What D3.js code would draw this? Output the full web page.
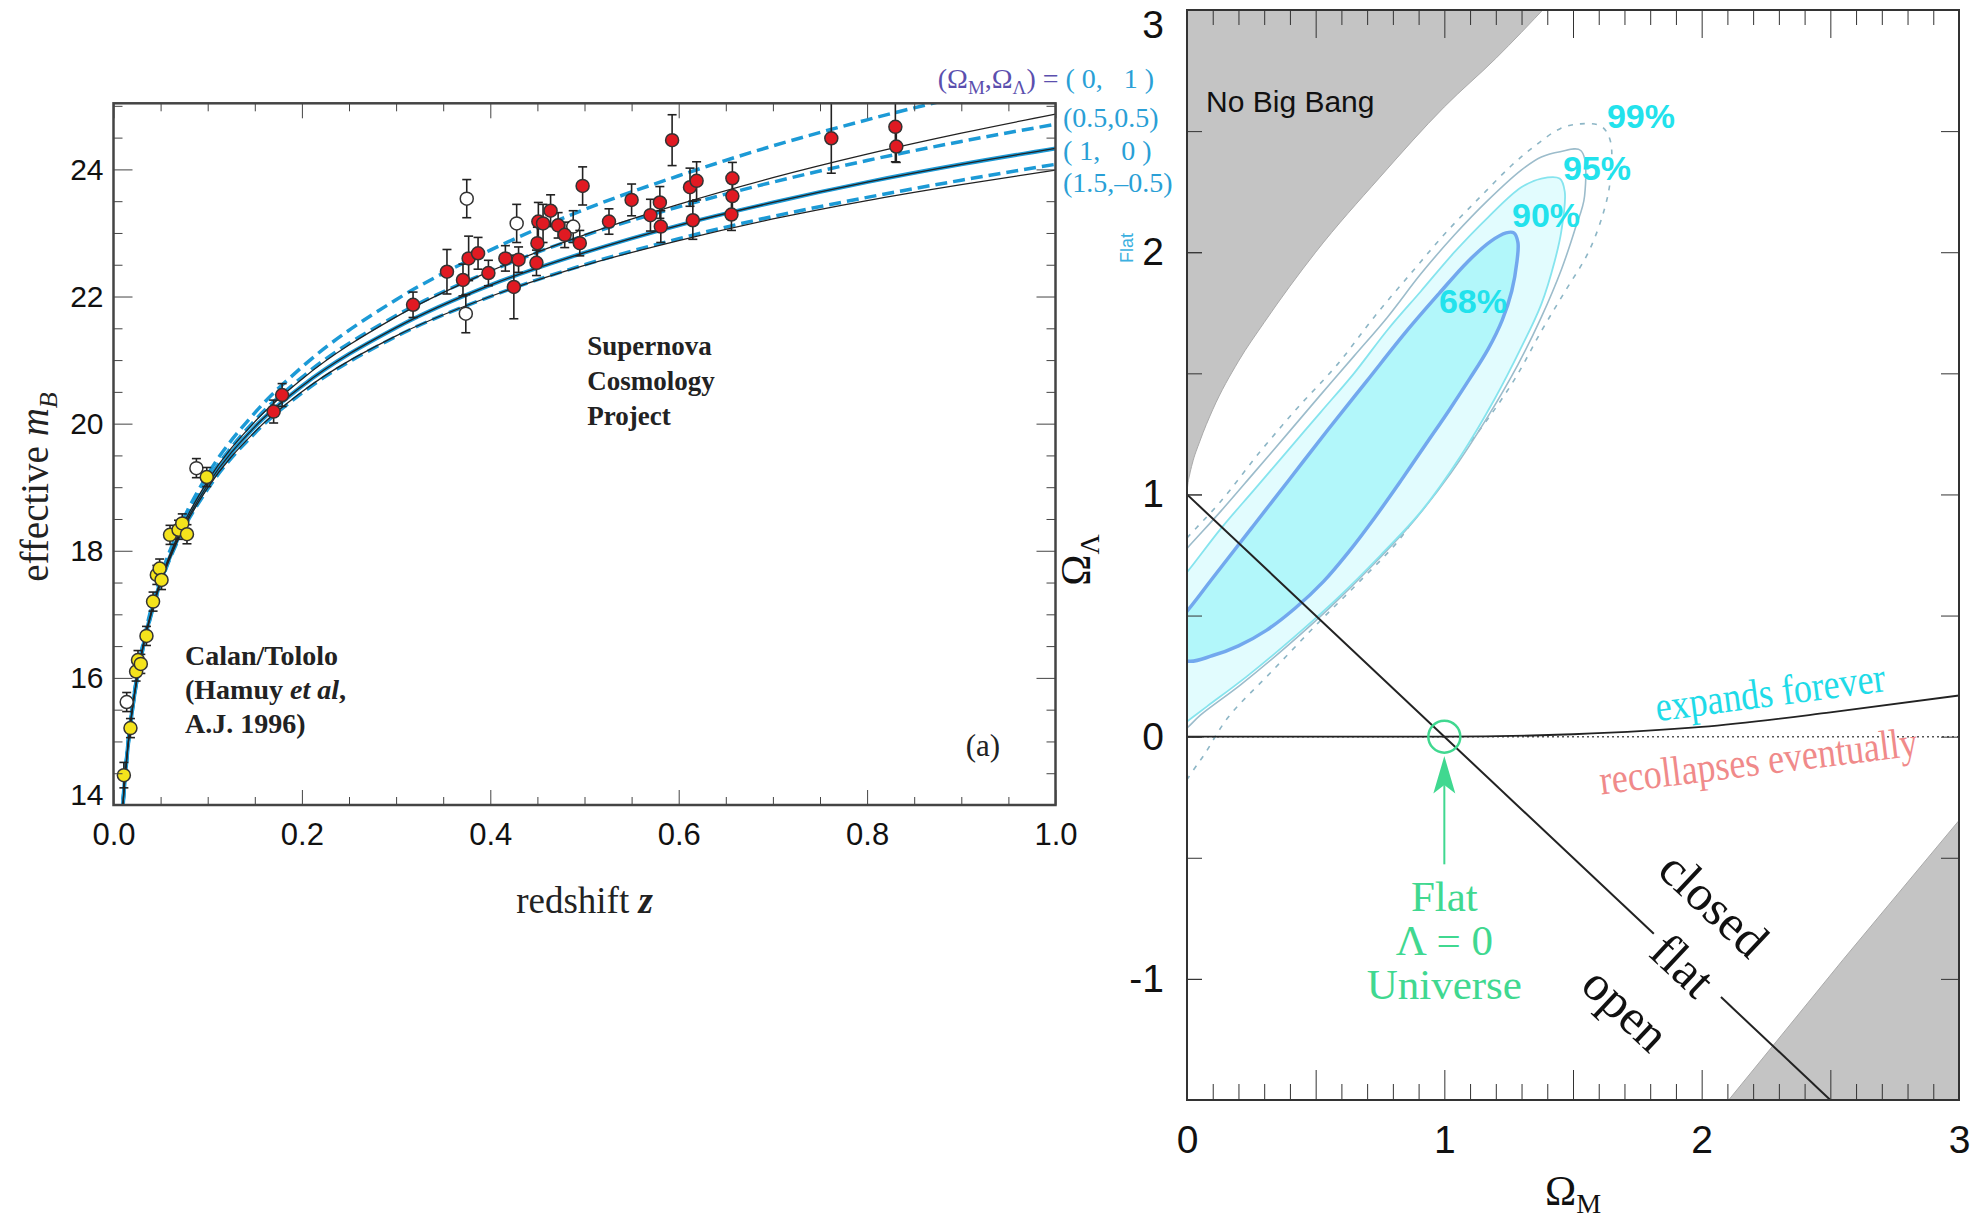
<!DOCTYPE html>
<html lang="en">
<head>
<meta charset="utf-8">
<title>Supernova Hubble diagram and the Omega_M / Omega_Lambda plane</title>
<script src="https://d3js.org/d3.v7.min.js"></script>
<style>
  html, body { margin: 0; padding: 0; background: #fff; }
  svg { display: block; }
  .flat-dash  { fill: none; stroke: #1c9ad6; stroke-width: 3.5; stroke-dasharray: 12,6; }
  .flat-solid { fill: none; stroke: #1c9ad6; stroke-width: 4; }
  .matter     { fill: none; stroke: #222; stroke-width: 1.25; }
  .errbar line { stroke: #222; stroke-width: 1.6; }
  .pre { white-space: pre; }
</style>
</head>
<body>
<svg id="chart" width="1982" height="1226"></svg>
<script>

// ---------------------------------------------
// data - left panel (Hubble diagram)
// ---------------------------------------------
var curveZ    = [0.008, 0.01, 0.015, 0.02, 0.03, 0.04, 0.05, 0.07, 0.1, 0.15, 0.2, 0.3, 0.4, 0.5, 0.6, 0.7, 0.8, 0.9, 1.0];
var mFlat01   = [13.52, 14.01, 14.90, 15.54, 16.44, 17.09, 17.59, 18.36, 19.20, 20.17, 20.89, 21.95, 22.73, 23.37, 23.90, 24.37, 24.78, 25.15, 25.50];
var mFlat55   = [13.52, 14.00, 14.89, 15.52, 16.42, 17.05, 17.55, 18.31, 19.11, 20.05, 20.73, 21.70, 22.40, 22.96, 23.41, 23.80, 24.14, 24.44, 24.71];
var mFlat10   = [13.51, 14.00, 14.88, 15.51, 16.39, 17.02, 17.51, 18.25, 19.04, 19.95, 20.59, 21.51, 22.18, 22.69, 23.12, 23.48, 23.80, 24.08, 24.33];
var mFlat15   = [13.50, 13.99, 14.87, 15.49, 16.37, 16.99, 17.48, 18.21, 18.97, 19.85, 20.48, 21.37, 22.00, 22.50, 22.91, 23.26, 23.56, 23.83, 24.08];
var mOpen00   = [13.51, 14.00, 14.89, 15.52, 16.41, 17.04, 17.54, 18.29, 19.10, 20.03, 20.70, 21.68, 22.40, 22.97, 23.45, 23.87, 24.24, 24.57, 24.87];
var mClosed20 = [13.51, 13.99, 14.87, 15.50, 16.38, 17.00, 17.49, 18.22, 18.99, 19.87, 20.50, 21.38, 22.00, 22.49, 22.88, 23.22, 23.51, 23.76, 23.99];

// Supernova Cosmology Project (red)
var redZ   = [0.170, 0.179, 0.318, 0.354, 0.371, 0.377, 0.387, 0.398, 0.416, 0.425, 0.430, 0.449, 0.450, 0.451, 0.456, 0.464, 0.472, 0.479, 0.495, 0.498, 0.526, 0.550, 0.570, 0.580, 0.581, 0.593, 0.612, 0.619, 0.615, 0.657, 0.657, 0.656, 0.762, 0.830, 0.831];
var redM   = [20.19, 20.45, 21.87, 22.39, 22.26, 22.60, 22.68, 22.37, 22.60, 22.15, 22.58, 22.53, 22.84, 23.18, 23.15, 23.35, 23.12, 22.97, 22.84, 23.74, 23.18, 23.52, 23.28, 23.48, 23.10, 24.46, 23.72, 23.82, 23.20, 23.86, 23.58, 23.29, 24.49, 24.67, 24.36];
var redErr = [0.18, 0.18, 0.20, 0.35, 0.25, 0.35, 0.25, 0.20, 0.20, 0.50, 0.20, 0.20, 0.25, 0.30, 0.30, 0.25, 0.20, 0.20, 0.20, 0.30, 0.20, 0.25, 0.25, 0.25, 0.25, 0.40, 0.30, 0.30, 0.30, 0.25, 0.25, 0.25, 0.55, 0.55, 0.25];

// Calan/Tololo (yellow)
var yelZ   = [0.011, 0.018, 0.024, 0.026, 0.029, 0.035, 0.042, 0.046, 0.049, 0.051, 0.060, 0.069, 0.073, 0.078, 0.099];
var yelM   = [14.47, 15.21, 16.10, 16.28, 16.22, 16.66, 17.20, 17.62, 17.72, 17.54, 18.25, 18.33, 18.43, 18.26, 19.16];
var yelErr = [0.20, 0.15, 0.15, 0.15, 0.15, 0.15, 0.15, 0.15, 0.15, 0.15, 0.15, 0.15, 0.15, 0.15, 0.15];

// open circles
var openZ   = [0.014, 0.088, 0.374, 0.375, 0.428, 0.488];
var openM   = [15.62, 19.30, 21.73, 23.54, 23.15, 23.10];
var openErr = [0.15, 0.15, 0.30, 0.30, 0.30, 0.25];

var legendLabels = ["(0.5,0.5)", "( 1,   0 )", "(1.5,\u20130.5)"];

// ---------------------------------------------
// data - right panel (Omega_M, Omega_Lambda), pairs [Om, OL]
// ---------------------------------------------
var noBigBang = [[0, 1.0], [0.002, 1.03], [0.01, 1.08], [0.02, 1.125], [0.05, 1.22], [0.1, 1.35], [0.2, 1.55], [0.3, 1.71], [0.5, 2.0], [0.75, 2.31], [1.0, 2.6], [1.2, 2.8], [1.4, 3.02]];
var tooDense  = [[2.105, -1.5], [2.55, -0.92], [3.0, -0.346], [3.0, -1.5]];
var expandM   = [0, 1, 1.5, 2, 2.5, 3];
var expandL   = [0, 0, 0.01, 0.04, 0.10, 0.17];
var flatLineA = [[0, 1], [1.814, -0.814]];
var flatLineB = [[2.075, -1.075], [2.5, -1.5]];

var c68 = [[-0.1,0.40],[0,0.518],[0.1,0.655],[0.25,0.86],[0.4,1.065],[0.55,1.27],[0.7,1.47],[0.85,1.67],[0.98,1.83],[1.09,1.96],[1.18,2.045],[1.24,2.08],[1.27,2.08],[1.286,2.04],[1.282,1.96],[1.262,1.84],[1.225,1.72],[1.17,1.6],[1.1,1.48],[1.02,1.35],[0.93,1.21],[0.83,1.055],[0.73,0.905],[0.63,0.765],[0.53,0.64],[0.42,0.53],[0.31,0.44],[0.2,0.375],[0.1,0.335],[0,0.3125]];
var c90 = [[-0.08,0.58],[0,0.679],[0.13,0.857],[0.26,1.018],[0.39,1.179],[0.519,1.339],[0.649,1.5],[0.779,1.679],[0.909,1.839],[1.039,2.0],[1.169,2.143],[1.299,2.268],[1.377,2.304],[1.448,2.304],[1.468,2.25],[1.455,2.089],[1.429,1.964],[1.377,1.786],[1.299,1.607],[1.195,1.393],[1.065,1.161],[0.909,0.929],[0.753,0.75],[0.584,0.571],[0.416,0.411],[0.234,0.25],[0.078,0.125],[0,0.0625],[-0.08,0.0]];
var c95 = [[-0.08,0.68],[0,0.777],[0.13,0.929],[0.26,1.089],[0.39,1.25],[0.519,1.411],[0.649,1.571],[0.779,1.732],[0.909,1.911],[1.039,2.071],[1.169,2.214],[1.299,2.339],[1.377,2.393],[1.45,2.415],[1.53,2.42],[1.545,2.232],[1.506,2.089],[1.455,1.929],[1.377,1.732],[1.286,1.536],[1.169,1.321],[1.026,1.089],[0.883,0.893],[0.727,0.714],[0.558,0.536],[0.39,0.375],[0.208,0.214],[0.052,0.089],[0,0.036],[-0.08,-0.03]];
var c99 = [[-0.08,0.72],[0,0.82],[0.13,0.97],[0.286,1.179],[0.429,1.357],[0.584,1.536],[0.727,1.732],[0.883,1.929],[1.013,2.089],[1.143,2.232],[1.26,2.357],[1.351,2.438],[1.45,2.51],[1.53,2.53],[1.61,2.52],[1.645,2.46],[1.645,2.30],[1.62,2.17],[1.56,2.0],[1.47,1.84],[1.38,1.68],[1.27,1.47],[1.14,1.27],[0.96,1.03],[0.83,0.82],[0.67,0.64],[0.51,0.47],[0.33,0.27],[0.16,0.08],[0.05,-0.1],[-0.05,-0.22]];

var pctLabels = ["99%", "95%", "90%", "68%"];
var pctPos    = [[1.632, 2.513], [1.461, 2.298], [1.263, 2.104], [0.979, 1.749]];


var fontSans   = '"Liberation Sans", Arial, Helvetica, sans-serif';
var fontNarrow = '"Liberation Sans Narrow", "Liberation Sans", Arial, sans-serif';
var fontSerif  = '"Liberation Serif", "Times New Roman", Times, serif';

var svg = d3.select("#chart");
var defs = svg.append("defs");

function text(g, x, y, str, size, family, fill) {
	return g.append("text").attr("x", x).attr("y", y).text(str)
		.style("font-size", size + "px").style("font-family", family).attr("fill", fill || "#111");
}

function styleTicks(sel, size, family, color) {
	sel.select(".domain").remove();
	sel.attr("color", color || "#444");
	sel.selectAll("text").style("font-size", size + "px").style("font-family", family).attr("fill", "#111");
	return sel;
}

function axis(g, fn, scale, values, size, transform, fmt, pad) {
	var a = fn(scale).tickValues(values).tickSizeInner(-size).tickSizeOuter(0).tickPadding(pad || 10);
	a.tickFormat(fmt ? fmt : "");
	return g.append("g").attr("transform", transform).call(a);
}

//---------------------------------------------
// left panel
//---------------------------------------------
var xL = d3.scaleLinear().domain([0, 1]).range([113.5, 1055.5]);
var yL = d3.scaleLinear().domain([14, 25.04]).range([805, 103.3]);

defs.append("clipPath").attr("id", "clipL").append("rect")
	.attr("x", xL(0)).attr("y", yL(25.04))
	.attr("width", xL(1) - xL(0)).attr("height", yL(14) - yL(25.04));

var left = svg.append("g").attr("id", "left-panel");

var zLine = d3.line().x(function(d) { return xL(d[0]); }).y(function(d) { return yL(d[1]); }).curve(d3.curveMonotoneX);
function zip(ms) { return curveZ.map(function(z, i) { return [z, ms[i]]; }); }

var leftCurves = [
	{ m: mFlat01, cls: "flat-dash" },
	{ m: mFlat55, cls: "flat-dash" },
	{ m: mFlat15, cls: "flat-dash" },
	{ m: mFlat10, cls: "flat-solid" },
	{ m: mOpen00, cls: "matter" },
	{ m: mFlat10, cls: "matter" },
	{ m: mClosed20, cls: "matter" }
];

var curveG = left.append("g").attr("clip-path", "url(#clipL)");
leftCurves.forEach(function(c) {
	curveG.append("path").attr("class", c.cls).attr("d", zLine(zip(c.m)));
});

function drawPoints(g, zs, ms, es, fill) {
	var pts = zs.map(function(z, i) { return { z: z, m: ms[i], e: es[i] }; });
	var bars = g.append("g").attr("class", "errbar").selectAll("g").data(pts).join("g");
	bars.append("line")
		.attr("x1", function(d) { return xL(d.z); }).attr("x2", function(d) { return xL(d.z); })
		.attr("y1", function(d) { return yL(d.m - d.e); }).attr("y2", function(d) { return yL(Math.min(d.m + d.e, 25.04)); });
	bars.append("line")
		.attr("x1", function(d) { return xL(d.z) - 4.5; }).attr("x2", function(d) { return xL(d.z) + 4.5; })
		.attr("y1", function(d) { return yL(d.m - d.e); }).attr("y2", function(d) { return yL(d.m - d.e); });
	bars.filter(function(d) { return d.m + d.e < 25.04; }).append("line")
		.attr("x1", function(d) { return xL(d.z) - 4.5; }).attr("x2", function(d) { return xL(d.z) + 4.5; })
		.attr("y1", function(d) { return yL(d.m + d.e); }).attr("y2", function(d) { return yL(d.m + d.e); });
	g.append("g").selectAll("circle").data(pts).join("circle")
		.attr("cx", function(d) { return xL(d.z); })
		.attr("cy", function(d) { return yL(d.m); })
		.attr("r", 6.5)
		.attr("fill", fill).attr("stroke", "#333").attr("stroke-width", 1.5);
}

drawPoints(left, openZ, openM, openErr, "#fff");
drawPoints(left, yelZ, yelM, yelErr, "#f4e31c");
drawPoints(left, redZ, redM, redErr, "#e01a22");

// frame
left.append("rect").attr("x", xL(0)).attr("y", yL(25.04))
	.attr("width", xL(1) - xL(0)).attr("height", yL(14) - yL(25.04))
	.attr("fill", "none").attr("stroke", "#444").attr("stroke-width", 2.5);

// ticks
var xMinorL = d3.range(0, 21).filter(function(i) { return i % 4 != 0; }).map(function(i) { return i * 0.05; });
var xMajorL = d3.range(0, 6).map(function(i) { return i * 0.2; });
var yMinorL = d3.range(28, 51).filter(function(i) { return i % 4 != 0; }).map(function(i) { return i / 2; });
var yMajorL = [14, 16, 18, 20, 22, 24];

styleTicks(axis(left, d3.axisBottom, xL, xMinorL, 8, "translate(0," + yL(14) + ")"), 30, fontNarrow);
styleTicks(axis(left, d3.axisTop, xL, xMinorL, 8, "translate(0," + yL(25.04) + ")"), 30, fontNarrow);
styleTicks(axis(left, d3.axisBottom, xL, xMajorL, 15, "translate(0," + yL(14) + ")", d3.format(".1f"), 18), 31, fontNarrow);
styleTicks(axis(left, d3.axisTop, xL, xMajorL, 15, "translate(0," + yL(25.04) + ")"), 30, fontNarrow);
styleTicks(axis(left, d3.axisLeft, yL, yMinorL, 9, "translate(" + xL(0) + ",0)"), 30, fontNarrow);
styleTicks(axis(left, d3.axisRight, yL, yMinorL, 9, "translate(" + xL(1) + ",0)"), 30, fontNarrow);
var yLab = styleTicks(axis(left, d3.axisLeft, yL, yMajorL, 19, "translate(" + xL(0) + ",0)", d3.format("d"), 10), 30, fontNarrow);
styleTicks(axis(left, d3.axisRight, yL, yMajorL, 19, "translate(" + xL(1) + ",0)"), 30, fontNarrow);
yLab.selectAll(".tick").filter(function(d) { return d == 14; }).select("text").attr("transform", "translate(0,-10)");

// axis titles
var yTitle = left.append("text")
	.attr("transform", "translate(48,487) rotate(-90)")
	.attr("text-anchor", "middle").style("font-family", fontSerif).style("font-size", "39px").attr("fill", "#222");
yTitle.append("tspan").text("effective  ");
yTitle.append("tspan").style("font-style", "italic").text("m");
yTitle.append("tspan").style("font-style", "italic").style("font-size", "26px").attr("dy", 9).text("B");

var xTitle = left.append("text")
	.attr("x", (xL(0) + xL(1)) / 2).attr("y", 913)
	.attr("text-anchor", "middle").style("font-family", fontSerif).style("font-size", "37px").attr("fill", "#222");
xTitle.append("tspan").text("redshift  ");
xTitle.append("tspan").style("font-style", "italic").style("font-weight", "bold").text("z");

// annotations
["Supernova", "Cosmology", "Project"].forEach(function(s, i) {
	text(left, xL(0.503), yL(21.08) + i * 35, s, 27, fontSerif, "#222").style("font-weight", "bold");
});
var cal = left.append("g").style("font-family", fontSerif).style("font-size", "28px").style("font-weight", "bold").attr("fill", "#222");
cal.append("text").attr("x", xL(0.0759)).attr("y", yL(16.2)).text("Calan/Tololo");
var ham = cal.append("text").attr("x", xL(0.0759)).attr("y", yL(16.2) + 34);
ham.append("tspan").text("(Hamuy ");
ham.append("tspan").style("font-style", "italic").text("et al");
ham.append("tspan").text(",");
cal.append("text").attr("x", xL(0.0759)).attr("y", yL(16.2) + 68).text("A.J. 1996)");

text(left, xL(0.923), yL(14.77), "(a)", 31, fontSerif, "#222").attr("text-anchor", "middle");

// legend of models
var leg = left.append("text").attr("x", xL(0.875)).attr("y", yL(25.28))
	.style("font-family", fontSerif).style("font-size", "28px").attr("class", "pre");
leg.append("tspan").attr("fill", "#5b4fae").text("(\u03A9");
leg.append("tspan").attr("fill", "#5b4fae").style("font-size", "19px").attr("dy", 6).text("M");
leg.append("tspan").attr("fill", "#5b4fae").attr("dy", -6).text(",\u03A9");
leg.append("tspan").attr("fill", "#5b4fae").style("font-size", "19px").attr("dy", 6).text("\u039B");
leg.append("tspan").attr("fill", "#5b4fae").attr("dy", -6).text(") = ");
leg.append("tspan").attr("fill", "#2a9fd6").text("( 0,   1 )");

var legY = [24.666, 24.146, 23.643];
legendLabels.forEach(function(s, i) {
	text(left, xL(1.008), yL(legY[i]), s, 28, fontSerif, "#2a9fd6").attr("class", "pre");
});

//---------------------------------------------
// right panel
//---------------------------------------------
var xR = d3.scaleLinear().domain([0, 3]).range([1187, 1959]);
var yR = d3.scaleLinear().domain([-1.5, 3]).range([1100, 10]);

defs.append("clipPath").attr("id", "clipR").append("rect")
	.attr("x", xR(0)).attr("y", yR(3))
	.attr("width", xR(3) - xR(0)).attr("height", yR(-1.5) - yR(3));

var right = svg.append("g").attr("id", "right-panel");
var plotR = right.append("g").attr("clip-path", "url(#clipR)");

var pLine = d3.line().x(function(d) { return xR(d[0]); }).y(function(d) { return yR(d[1]); });
var blob  = d3.line().x(function(d) { return xR(d[0]); }).y(function(d) { return yR(d[1]); }).curve(d3.curveCatmullRomClosed.alpha(0.5));

// excluded regions
plotR.append("path")
	.attr("d", d3.area().x(function(d) { return xR(d[0]); }).y0(yR(3.1)).y1(function(d) { return yR(d[1]); })
		.curve(d3.curveMonotoneX)(noBigBang))
	.attr("fill", "#c4c4c4").attr("stroke", "#aaa").attr("stroke-width", 1);
plotR.append("path").attr("d", pLine(tooDense) + "Z")
	.attr("fill", "#c4c4c4").attr("stroke", "#aaa").attr("stroke-width", 1);

// confidence regions
plotR.append("path").attr("d", blob(c99)).attr("fill", "none")
	.attr("stroke", "#8db6c6").attr("stroke-width", 1.6).attr("stroke-dasharray", "5,7");
plotR.append("path").attr("d", blob(c95)).attr("fill", "none")
	.attr("stroke", "#9cbccb").attr("stroke-width", 1.6);
plotR.append("path").attr("d", blob(c90)).attr("fill", "#e2fcfe")
	.attr("stroke", "#86e4ee").attr("stroke-width", 1.8);
plotR.append("path").attr("d", blob(c68)).attr("fill", "#b2f7fa")
	.attr("stroke", "#72a8ee").attr("stroke-width", 3.5);

// Lambda = 0 reference and expansion boundary
plotR.append("line").attr("x1", xR(0)).attr("x2", xR(3)).attr("y1", yR(0)).attr("y2", yR(0))
	.attr("stroke", "#555").attr("stroke-width", 1.5).attr("stroke-dasharray", "2,3");
plotR.append("path")
	.attr("d", pLine.curve(d3.curveMonotoneX)(expandM.map(function(m, i) { return [m, expandL[i]]; })))
	.attr("fill", "none").attr("stroke", "#222").attr("stroke-width", 1.8);
pLine.curve(d3.curveLinear);

// flat universe line
[flatLineA, flatLineB].forEach(function(seg) {
	plotR.append("path").attr("d", pLine(seg)).attr("fill", "none").attr("stroke", "#222").attr("stroke-width", 2);
});

// flat, Lambda = 0 marker
var green = "#40d890";
right.append("circle").attr("cx", xR(1)).attr("cy", yR(0)).attr("r", 16)
	.attr("fill", "none").attr("stroke", green).attr("stroke-width", 2.5);
right.append("line").attr("x1", xR(1)).attr("x2", xR(1)).attr("y1", yR(-0.527)).attr("y2", yR(-0.2))
	.attr("stroke", green).attr("stroke-width", 2);
right.append("path")
	.attr("d", "M" + xR(1) + "," + yR(-0.08) + " L" + (xR(1) - 11) + "," + yR(-0.235) +
		" L" + xR(1) + "," + yR(-0.2) + " L" + (xR(1) + 11) + "," + yR(-0.235) + "Z")
	.attr("fill", green);
["Flat", "\u039B = 0", "Universe"].forEach(function(s, i) {
	text(right, xR(1), yR(-0.72) + i * 44, s, 43, fontSerif, green).attr("text-anchor", "middle");
});

// region texts
text(right, xR(0.074), yR(2.579), "No Big Bang", 30, fontSans, "#111");
pctLabels.forEach(function(s, i) {
	text(right, xR(pctPos[i][0]), yR(pctPos[i][1]), s, 34, fontSans, "#22e2ec").style("font-weight", "bold");
});

text(right, 0, 0, "expands forever", 42, fontSerif, "#1fdbe8")
	.attr("text-anchor", "middle")
	.attr("transform", "translate(" + xR(2.273) + "," + yR(0.126) + ") rotate(-7.5) scale(0.86,1)");
text(right, 0, 0, "recollapses eventually", 42, fontSerif, "#f08a8a")
	.attr("text-anchor", "middle")
	.attr("transform", "translate(" + xR(2.227) + "," + yR(-0.158) + ") rotate(-7) scale(0.86,1)");

var lineAngle = Math.atan2(yR(-1.5) - yR(1), xR(2.5) - xR(0)) * 180 / Math.PI;
var kPos = [[2.048, -0.692, "closed"], [1.927, -0.943, "flat"], [1.706, -1.124, "open"]];
kPos.forEach(function(k) {
	text(right, 0, 0, k[2], 50, fontSerif, "#111")
		.attr("text-anchor", "middle").attr("dominant-baseline", "central")
		.attr("transform", "translate(" + xR(k[0]) + "," + yR(k[1]) + ") rotate(" + lineAngle + ")");
});

// frame
right.append("rect").attr("x", xR(0)).attr("y", yR(3))
	.attr("width", xR(3) - xR(0)).attr("height", yR(-1.5) - yR(3))
	.attr("fill", "none").attr("stroke", "#333").attr("stroke-width", 2);

// ticks
var xShortR = d3.range(0, 31).filter(function(i) { return i % 5 != 0; }).map(function(i) { return i / 10; });
var xHalfR  = [0.5, 1.5, 2.5];
var xIntR   = [0, 1, 2, 3];
var yHalfR  = d3.range(-3, 7).map(function(i) { return i / 2; });
var yIntR   = [-1, 0, 1, 2, 3];
var plain   = function(d) { return String(d); };

styleTicks(axis(right, d3.axisBottom, xR, xShortR, 16, "translate(0," + yR(-1.5) + ")"), 39, fontSans, "#333");
styleTicks(axis(right, d3.axisTop, xR, xShortR, 15, "translate(0," + yR(3) + ")"), 39, fontSans, "#333");
styleTicks(axis(right, d3.axisBottom, xR, xHalfR, 30, "translate(0," + yR(-1.5) + ")"), 39, fontSans, "#333");
styleTicks(axis(right, d3.axisTop, xR, xHalfR.concat(xIntR), 28, "translate(0," + yR(3) + ")"), 39, fontSans, "#333");
styleTicks(axis(right, d3.axisBottom, xR, xIntR, 30, "translate(0," + yR(-1.5) + ")", plain, 25), 39, fontSans, "#333");
var yLabR = styleTicks(axis(right, d3.axisLeft, yR, yIntR, 15, "translate(" + xR(0) + ",0)", plain, 23), 39, fontSans, "#333");
styleTicks(axis(right, d3.axisLeft, yR, yHalfR, 15, "translate(" + xR(0) + ",0)"), 39, fontSans, "#333");
styleTicks(axis(right, d3.axisRight, yR, yHalfR, 18, "translate(" + xR(3) + ",0)"), 39, fontSans, "#333");
yLabR.selectAll(".tick").filter(function(d) { return d == 3; }).select("text").attr("transform", "translate(0,15)");

// axis titles
var oM = right.append("text").attr("x", (xR(0) + xR(3)) / 2).attr("y", 1205)
	.attr("text-anchor", "middle").style("font-family", fontSerif).style("font-size", "42px").attr("fill", "#111");
oM.append("tspan").text("\u03A9");
oM.append("tspan").style("font-size", "28px").attr("dy", 8).text("M");

var oL = right.append("text")
	.attr("transform", "translate(1090,560) rotate(-90)")
	.attr("text-anchor", "middle").style("font-family", fontSerif).style("font-size", "42px").attr("fill", "#111");
oL.append("tspan").text("\u03A9");
oL.append("tspan").style("font-size", "28px").attr("dy", 9).text("\u039B");

text(right, 0, 0, "Flat", 18, fontSans, "#3cb0e0")
	.attr("text-anchor", "middle")
	.attr("transform", "translate(1133,248) rotate(-90)");

</script>
</body>
</html>
